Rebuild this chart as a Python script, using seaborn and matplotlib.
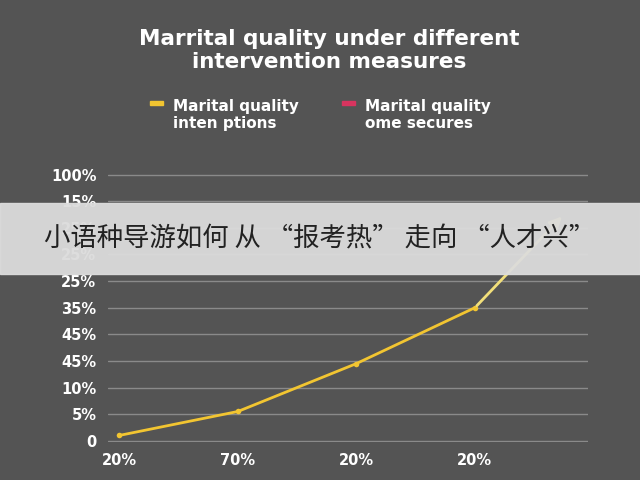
import matplotlib
matplotlib.use("Agg")
import matplotlib.pyplot as plt
import seaborn as sns
import pandas as pd

x_labels = ["20%", "70%", "20%", "20%"]
y_labels = ["0", "5%", "10%", "45%", "45%", "35%", "25%", "25%", "25%", "15%", "100%"]
line_x = [0, 1, 2, 3]
line_y = [0.2, 1.1, 2.9, 5.0]
arrow_end = (3.75, 8.5)

sns.set_theme(style="dark")
plt.rcParams['font.family'] = ['DejaVu Sans', 'Noto Sans CJK SC']
bg = "#545454"
fig = plt.figure(figsize=(6.4, 4.8), dpi=100, facecolor=bg)
ax = fig.add_axes([0.168, 0.079, 0.75, 0.56])
ax.set_facecolor(bg)
df = pd.DataFrame({"x": line_x, "y": line_y})
sns.lineplot(data=df, x="x", y="y", ax=ax, color="#f2c531", lw=2, marker="o", markersize=4, markeredgewidth=0)
ax.annotate("", xy=arrow_end, xytext=(line_x[-1], line_y[-1]),
            arrowprops=dict(arrowstyle="-|>", color="#f2df7a", lw=2, mutation_scale=18))
ax.set_xlim(-0.1, 3.95)
ax.set_ylim(-0.05, 10.05)
ax.set_yticks(range(11))
ax.set_yticklabels(y_labels)
ax.set_xticks(line_x)
ax.set_xticklabels(x_labels)
for s in ax.spines.values():
    s.set_visible(False)
ax.grid(axis="y", color="#8a8a8a", lw=1)
ax.grid(axis="x", visible=False)
ax.tick_params(colors="white", labelsize=10.5, length=0, pad=8)
for t in ax.get_xticklabels() + ax.get_yticklabels():
    t.set_fontweight("bold")
ax.set_xlabel(""); ax.set_ylabel("")

fig.text(0.515, 0.895, "Marrital quality under different\nintervention measures", ha="center", va="center",
         color="white", fontsize=15.5, fontweight="bold", linespacing=1.2)
fig.patches.append(plt.Rectangle((0.235, 0.781), 0.02, 0.008, color="#f2c531", transform=fig.transFigure))
fig.text(0.27, 0.76, "Marital quality\ninten ptions", color="white", fontsize=11, fontweight="bold", va="center")
fig.patches.append(plt.Rectangle((0.535, 0.781), 0.02, 0.008, color="#d8345f", transform=fig.transFigure))
fig.text(0.57, 0.76, "Marital quality\nome secures", color="white", fontsize=11, fontweight="bold", va="center")

fig.patches.append(plt.Rectangle((0, 0.43), 1, 0.147, color="#dcdcdc", alpha=0.95, transform=fig.transFigure, zorder=10))
fig.text(0.5, 0.503, "小语种导游如何 从 “报考热” 走向 “人才兴”", ha="center", va="center",
         fontsize=19, color="#222222", family=['Noto Sans CJK SC', 'DejaVu Sans'], zorder=11)
fig.savefig("out.png", dpi=100, facecolor=bg)
